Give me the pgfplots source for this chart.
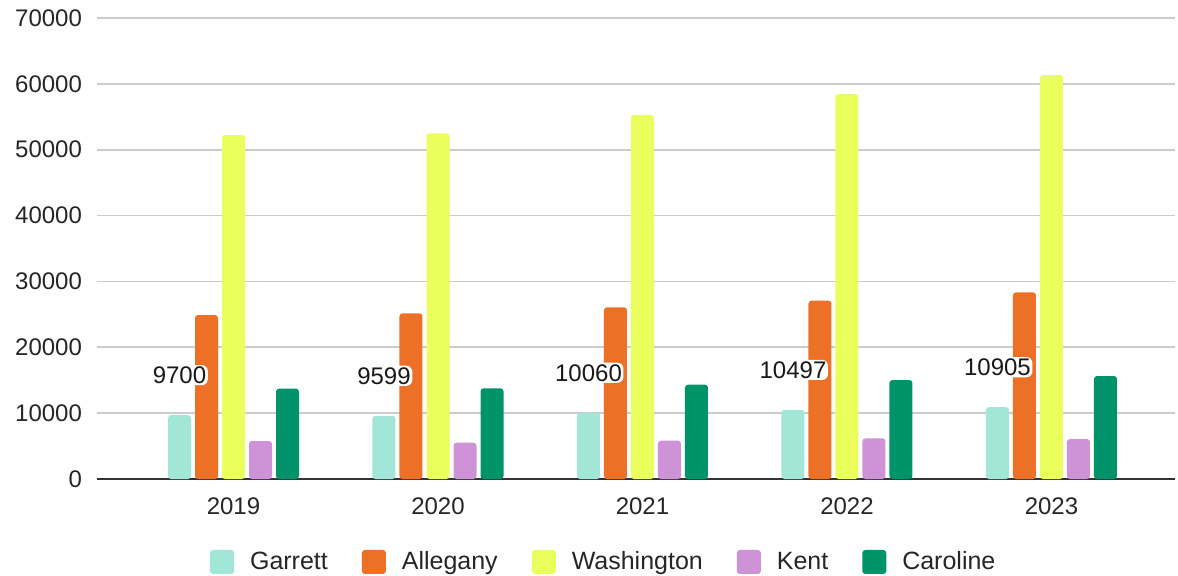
\documentclass[border=0pt]{standalone}
\usepackage{fontspec}
\setmainfont{Liberation Sans}
\usepackage{pgfplots}
\pgfplotsset{compat=1.18}
\definecolor{cGar}{RGB}{162,230,216}
\definecolor{cAll}{RGB}{236,112,38}
\definecolor{cWas}{RGB}{234,255,92}
\definecolor{cKen}{RGB}{206,147,214}
\definecolor{cCar}{RGB}{0,147,106}
\begin{document}
\begin{tikzpicture}
\useasboundingbox (0,0) rectangle (589pt,287.5pt);
\begin{axis}[
  at={(48.5pt,48pt)}, anchor=south west,
  scale only axis, width=539pt, height=230.5pt,
  xmin=-0.6675, xmax=4.604, ymin=0, ymax=70000,
  ytick={0,10000,...,70000}, scaled y ticks=false,
  xtick={0,1,2,3,4}, xticklabels={2019,2020,2021,2022,2023},
  ymajorgrids, grid style={draw=black!20, line width=0.8pt},
  extra y ticks={0}, extra y tick labels={},
  extra y tick style={grid style={draw=black!80, line width=1pt}},
  axis line style={draw=none},
  major tick length=0pt,
  tick label style={font=\fontsize{12}{14}\selectfont, text=black!85},
  yticklabel style={xshift=-4pt},
  xticklabel style={yshift=-6pt},
  /pgf/number format/1000 sep={}, /pgf/number format/assume math mode=true,
  ybar, bar width=11.5pt,
  legend columns=5,
  legend style={at={(0.471,-0.18)}, anchor=center, draw=none,
    font=\fontsize{12.5}{15}\selectfont, text=black!85,
    /tikz/every odd column/.append style={column sep=6pt},
    /tikz/every even column/.append style={column sep=15pt}},
  legend image code/.code={\fill[#1, rounded corners=1.5pt] (0pt,-6pt) rectangle (12pt,6pt);},
]
\addlegendimage{fill=cGar, draw=none}
\addlegendimage{fill=cAll, draw=none}
\addlegendimage{fill=cWas, draw=none}
\addlegendimage{fill=cKen, draw=none}
\addlegendimage{fill=cCar, draw=none}
\legend{Garrett, Allegany, Washington, Kent, Caroline}

\addplot[fill=cAll, draw=none, rounded corners=1.5pt, bar shift=-13.5pt, forget plot]
  coordinates {(0,24900) (1,25160) (2,26070) (3,27080) (4,28350)};
\addplot[fill=cWas, draw=none, rounded corners=1.5pt, bar shift=0pt, forget plot]
  coordinates {(0,52230) (1,52490) (2,55270) (3,58460) (4,61340)};
\addplot[fill=cKen, draw=none, rounded corners=1.5pt, bar shift=13.5pt, forget plot]
  coordinates {(0,5770) (1,5510) (2,5820) (3,6180) (4,6070)};
\addplot[fill=cCar, draw=none, rounded corners=1.5pt, bar shift=27pt, forget plot]
  coordinates {(0,13710) (1,13770) (2,14320) (3,15030) (4,15640)};
\addplot[fill=cGar, draw=none, rounded corners=1.5pt, bar shift=-27pt, forget plot,
  nodes near coords,
  nodes near coords style={anchor=center, yshift=20pt, font=\fontsize{12}{14}\selectfont,
    text=black!90, fill=white, rounded corners=3pt, inner sep=0.8pt}]
  coordinates {(0,9700) (1,9599) (2,10060) (3,10497) (4,10905)};
\end{axis}
\end{tikzpicture}
\end{document}
